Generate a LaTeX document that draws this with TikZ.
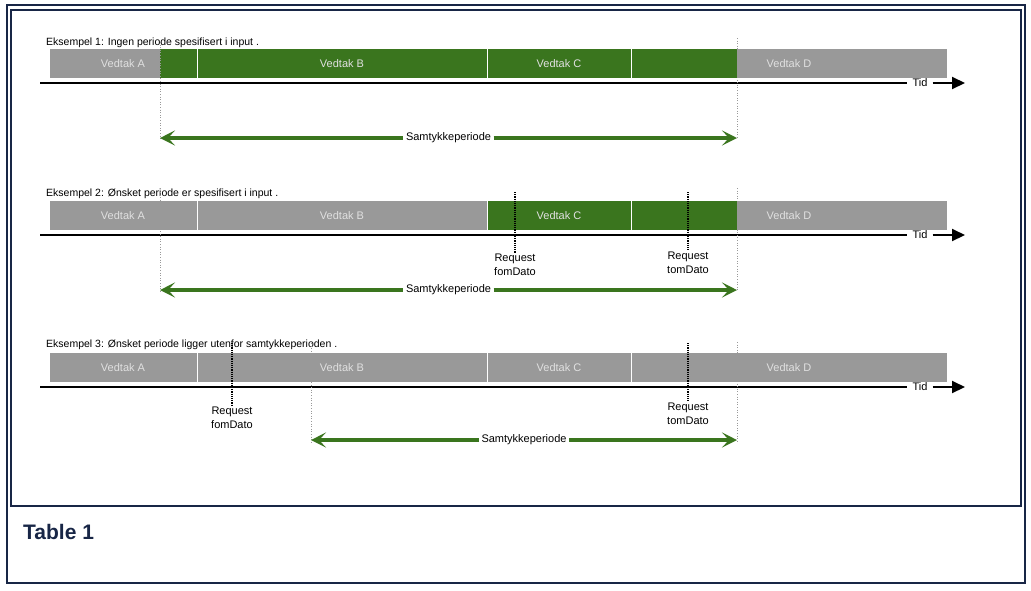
\documentclass[tikz,border=0pt]{standalone}
\usepackage{fontspec}
\setmainfont{Liberation Sans}
\usetikzlibrary{arrows.meta}
\definecolor{vedtakgray}{RGB}{153,153,153}
\definecolor{vedtakgreen}{RGB}{58,117,30}
\definecolor{framenavy}{RGB}{24,38,70}
\begin{document}
\begin{tikzpicture}[
            x=1pt, y=-1pt,
            vedtak bar/.style={fill=vedtakgray},
            samtykke bar/.style={fill=vedtakgreen},
            vedtak label/.style={inner sep=0pt, text=white!88!black, font=\fontsize{11}{12}\selectfont},
            example caption/.style={anchor=west, inner sep=0pt, font=\fontsize{10.5}{12}\selectfont},
            time axis/.style={draw=black, line width=2pt},
            tid label/.style={fill=white, inner xsep=5pt, inner ysep=1pt, font=\fontsize{11}{12}\selectfont},
            period arrow/.style={draw=vedtakgreen, line width=3.5pt},
            period label/.style={fill=white, inner xsep=2.5pt, inner ysep=1pt, font=\fontsize{11}{12}\selectfont},
            guide line/.style={draw=gray!80, line width=0.6pt, dotted},
            request line/.style={draw=black, line width=1.5pt, dash pattern=on 1.2pt off 1pt},
            request label/.style={align=center, inner sep=1pt, font=\fontsize{11}{13.5}\selectfont}
        ]
        \useasboundingbox (0,0) rectangle (1031,590);

        % Frames
        \draw[framenavy, line width=1.2pt] (7,5) rectangle (1025,583);
        \draw[framenavy, line width=2pt] (11,10) rectangle (1021,506);
        \node[anchor=west, inner sep=0pt, text=framenavy, font=\bfseries\fontsize{21}{24}\selectfont] (tab) at (23,532) {Table 1};

        % Vedtak bars
        \foreach \dy in {0,152,304}
            \foreach \xa/\xb in {50/196.5,198/486.5,488/630.5,632/947}
                \fill[vedtak bar] (\xa,49+\dy) rectangle (\xb,78+\dy);

        % Samtykke overlay, example 1
        \foreach \xa/\xb in {160/196.5,198/486.5,488/630.5,632/737}
            \fill[samtykke bar] (\xa,49) rectangle (\xb,78);

        % Samtykke overlay, example 2
        \foreach \xa/\xb in {488/630.5,632/737}
            \fill[samtykke bar] (\xa,201) rectangle (\xb,230);

        % Labels and time axes
        \foreach \r/\dy in {1/0,2/152,3/304} {
            \foreach \s/\x in {A/123,B/342,C/559,D/789}
                \node[vedtak label] (\s-\r) at (\x,63.5+\dy) {Vedtak \s};
            \coordinate (ax-\r) at (40,83+\dy);
            \coordinate (axe-\r) at (965,83+\dy);
            \node[tid label] (tid-\r) at (920,83+\dy) {Tid};
            \draw[time axis] (ax-\r) -- (tid-\r);
            \draw[time axis, -{Triangle[length=13pt,width=12pt]}] (tid-\r) -- (axe-\r);
        }

        % Captions
        \node[example caption] (cap-1) at (46,43) {Eksempel 1: Ingen periode spesifisert i input .};
        \node[example caption] (cap-2) at (46,194) {Eksempel 2: Ønsket periode er spesifisert i input .};
        \node[example caption] (cap-3) at (46,345) {Eksempel 3: Ønsket periode ligger utenfor samtykkeperioden .};

        % Guide lines
        \foreach \n/\x/\ya/\yb in {1a/160/42/140,1b/737/38/138,2a/160/192/292,2b/737/188/290,3a/311/343/442,3b/737/342/442} {
            \coordinate (gt-\n) at (\x,\ya);
            \coordinate (gb-\n) at (\x,\yb);
            \draw[guide line] (gt-\n) -- (gb-\n);
        }

        % Samtykkeperiode arrows
        \foreach \r/\xa/\xb/\y in {1/160/737/138,2/160/737/290,3/311/737/440} {
            \coordinate (ps-\r) at (\xa,\y);
            \coordinate (pe-\r) at (\xb,\y);
            \node[period label] (sam-\r) at ({(\xa+\xb)/2},\y) {Samtykkeperiode};
            \draw[period arrow, {Stealth[length=15pt,width=15pt,inset=7pt]}-] (ps-\r) -- (sam-\r);
            \draw[period arrow, -{Stealth[length=15pt,width=15pt,inset=7pt]}] (sam-\r) -- (pe-\r);
        }

        % Request dates
        \node[request label] (rf-2) at (515,265) {Request\\fomDato};
        \node[request label] (rt-2) at (688,263) {Request\\tomDato};
        \node[request label] (rf-3) at (232,418) {Request\\fomDato};
        \node[request label] (rt-3) at (688,414) {Request\\tomDato};
        \foreach \n/\x/\y in {rf-2/515/192,rt-2/688/192,rf-3/232/343,rt-3/688/343} {
            \coordinate (top-\n) at (\x,\y);
            \draw[request line] (top-\n) -- (\n);
        }

\end{tikzpicture}
\end{document}
